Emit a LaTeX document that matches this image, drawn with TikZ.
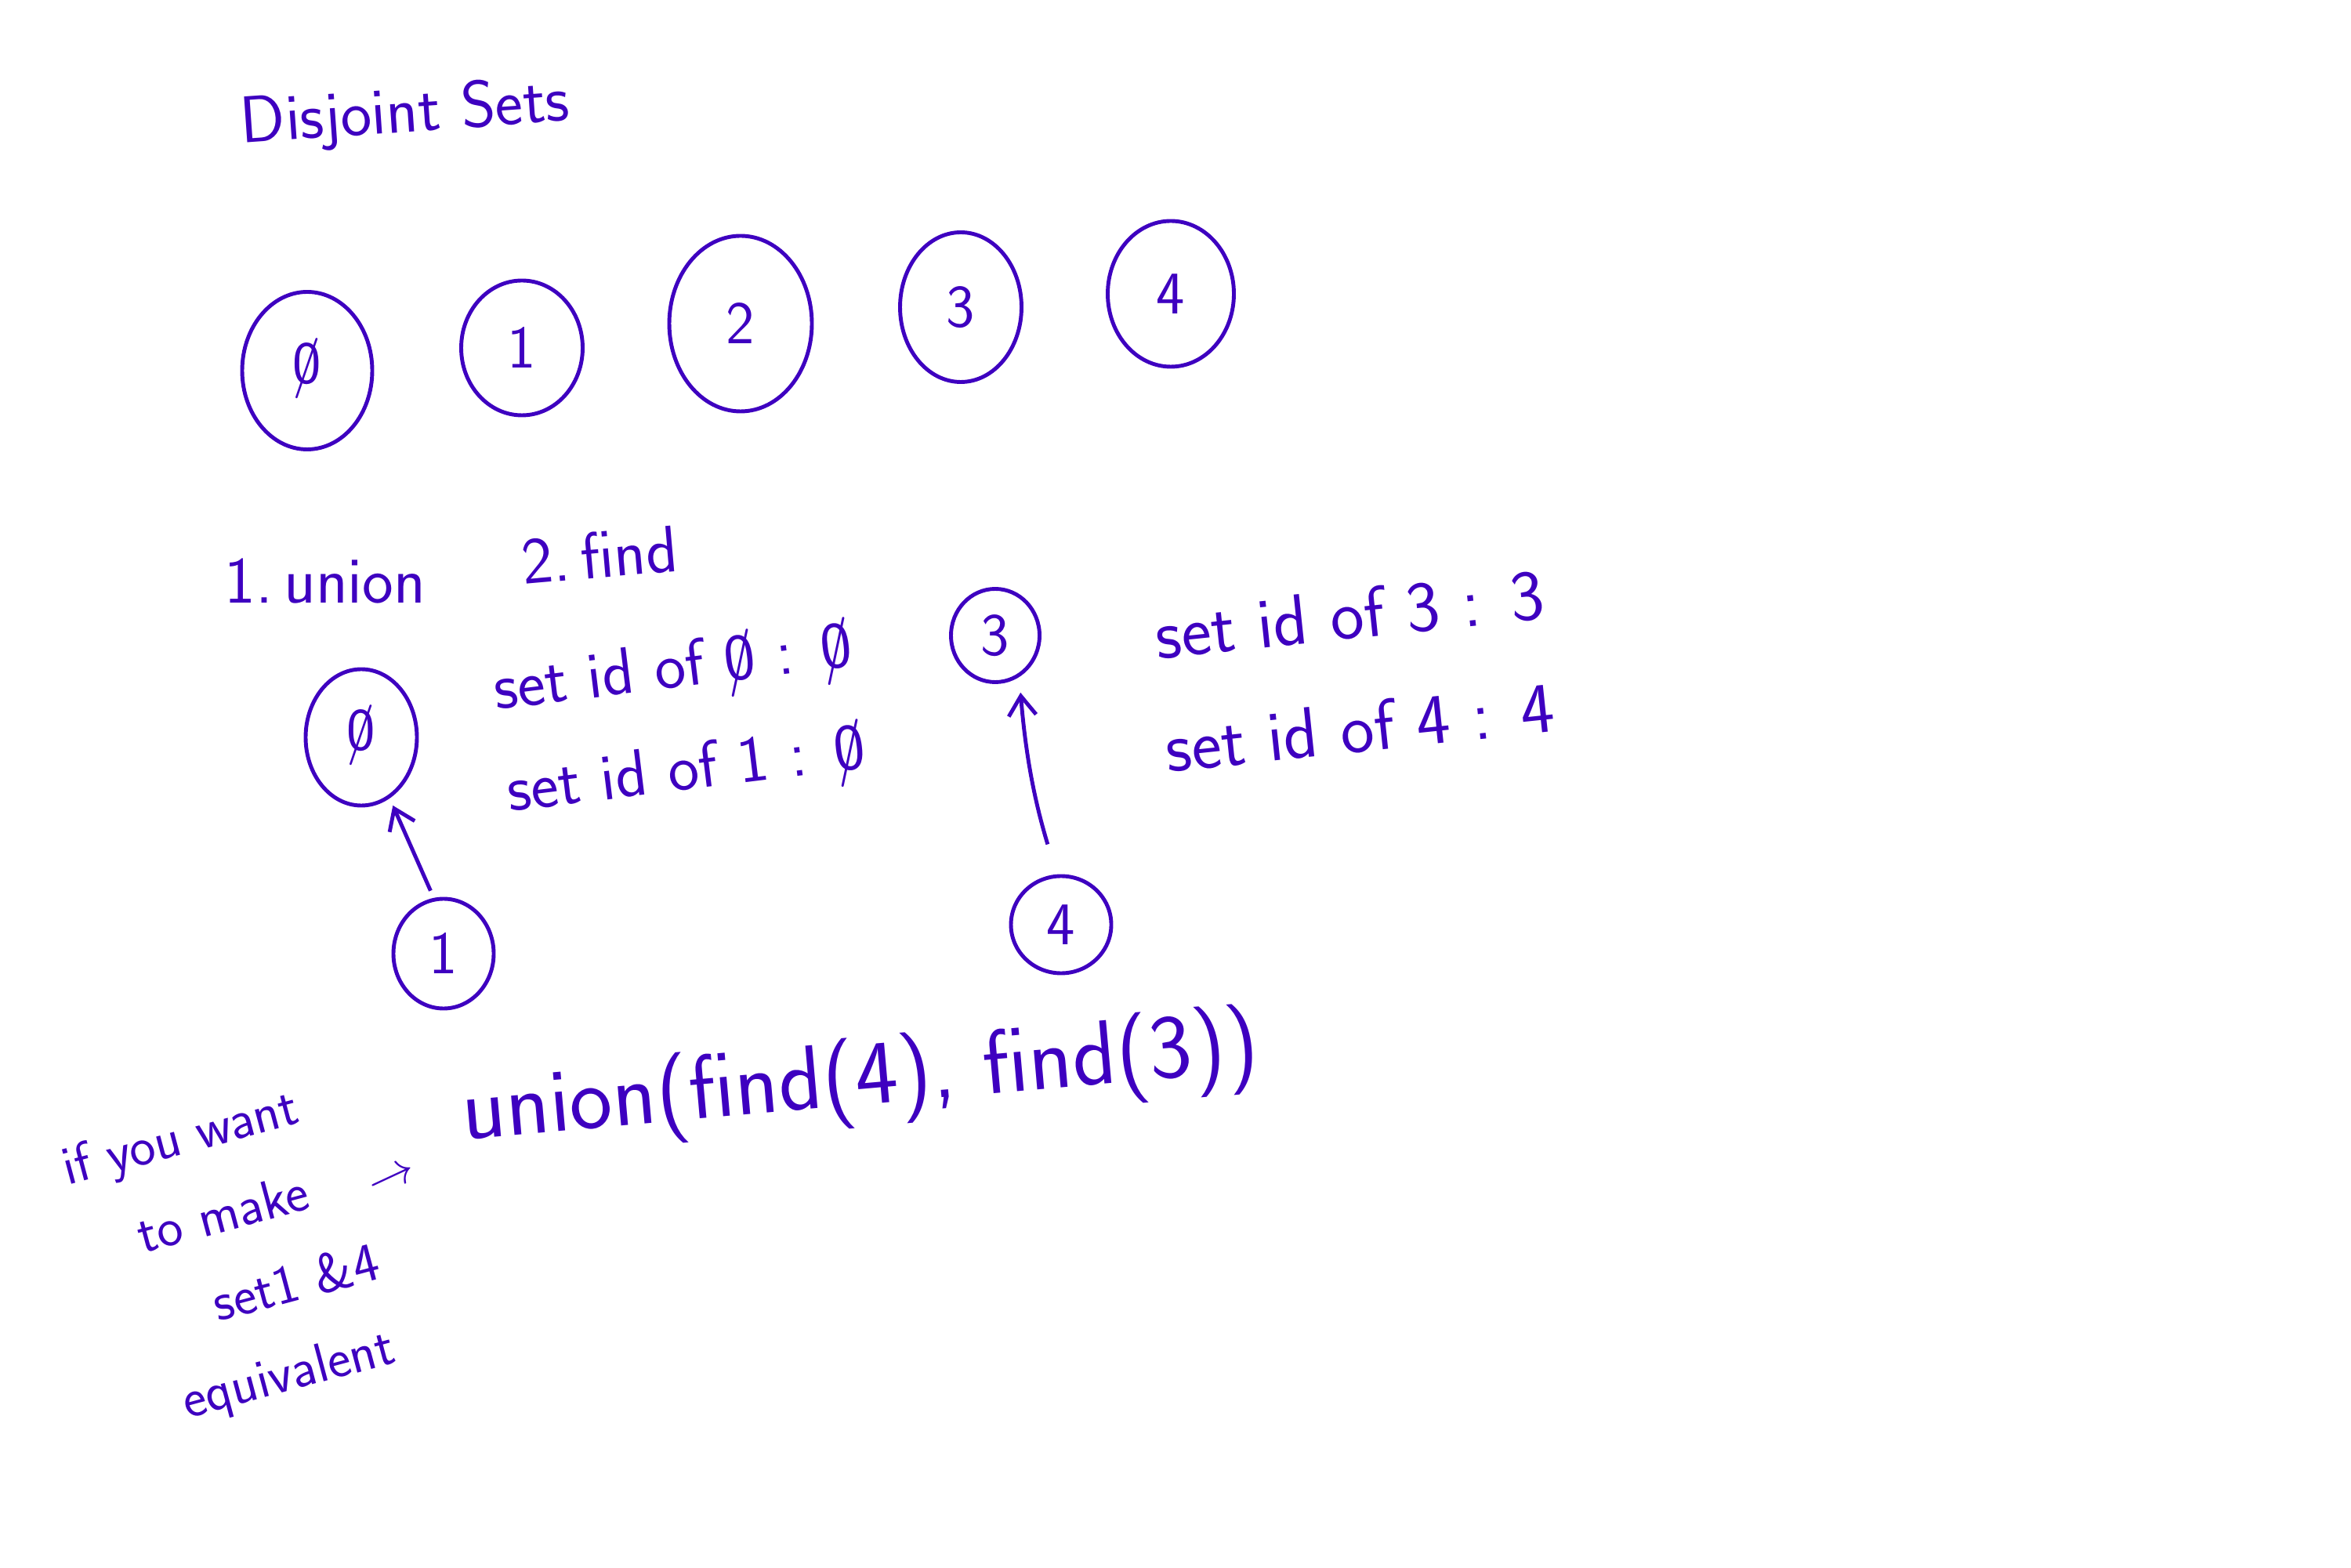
\documentclass[tikz,border=0pt]{standalone}
\usepackage{tikz}
\usetikzlibrary{shapes.geometric,arrows.meta}
\definecolor{ink}{RGB}{62,0,192}
\newcommand{\szero}{\ooalign{0\cr\hidewidth/\hidewidth\cr}}

\begin{document}
\begin{tikzpicture}[color=ink,line width=1.4pt,>={Straight Barb[length=2.5mm,width=3.5mm]}]
    \tikzset{e/.style={ellipse,draw,inner sep=0pt,font=\fontsize{22}{26}\selectfont\sffamily},
             t/.style={font=\fontsize{24}{28}\selectfont\sffamily},
             ar/.style={->,shorten <=1mm,shorten >=1mm}}
    \useasboundingbox (0,0) rectangle (30,20);
    \node[t,rotate=4] (title) at (5.17,18.53) {Disjoint Sets};
    % the five single sets
    \node[e,minimum width=1.66cm,minimum height=2.01cm] (a0) at (3.92,15.27) {\szero};
    \node[e,minimum width=1.55cm,minimum height=1.72cm] (a1) at (6.66,15.56) {1};
    \node[e,minimum width=1.82cm,minimum height=2.24cm] (a2) at (9.45,15.87) {2};
    \node[e,minimum width=1.55cm,minimum height=1.91cm] (a3) at (12.26,16.08) {3};
    \node[e,minimum width=1.61cm,minimum height=1.86cm] (a4) at (14.94,16.25) {4};
    % operations
    \node[t] (un) at (4.15,12.58) {1.\,union};
    \node[t,rotate=5] (fi) at (7.65,12.92) {2.\,find};
    \node[e,minimum width=1.42cm,minimum height=1.74cm] (b0) at (4.61,10.59) {\szero};
    \node[e,minimum width=1.28cm,minimum height=1.40cm] (b1) at (5.66,7.83) {1};
    \node[e,minimum width=1.13cm,minimum height=1.19cm] (b3) at (12.70,11.89) {3};
    \node[e,minimum width=1.28cm,minimum height=1.24cm] (b4) at (13.54,8.20) {4};
    \draw[ar] (b1.100) -- (b0.-65);
    \draw[ar,shorten <=4mm,shorten >=2mm] (b4.95) to[bend left=6] (b3.-60);
    \node[t,rotate=7] (id0) at (8.59,11.41) {set id of \szero\ : \szero};
    \node[t,rotate=7] (id1) at (8.76,10.11) {set id of 1 : \szero};
    \node[t,rotate=6,font=\fontsize{26}{30}\selectfont\sffamily] (id3) at (17.22,12.16) {set id of 3 : 3};
    \node[t,rotate=6,font=\fontsize{26}{30}\selectfont\sffamily] (id4) at (17.35,10.72) {set id of 4 : 4};
    % making 1 and 4 one set
    \node[font=\fontsize{20}{31}\selectfont\sffamily,align=left,rotate=15] (note) at (2.97,3.93)
        {if you want\\\quad to make\\\qquad set1 \&4\\\quad equivalent};
    \node[font=\fontsize{16}{18}\selectfont,rotate=25] (to) at (5.01,4.94) {$\rightarrow$};
    \node[font=\fontsize{33}{38}\selectfont\sffamily,rotate=5] (call) at (10.98,6.19) {union(find(4), find(3))};
\end{tikzpicture}
\end{document}
